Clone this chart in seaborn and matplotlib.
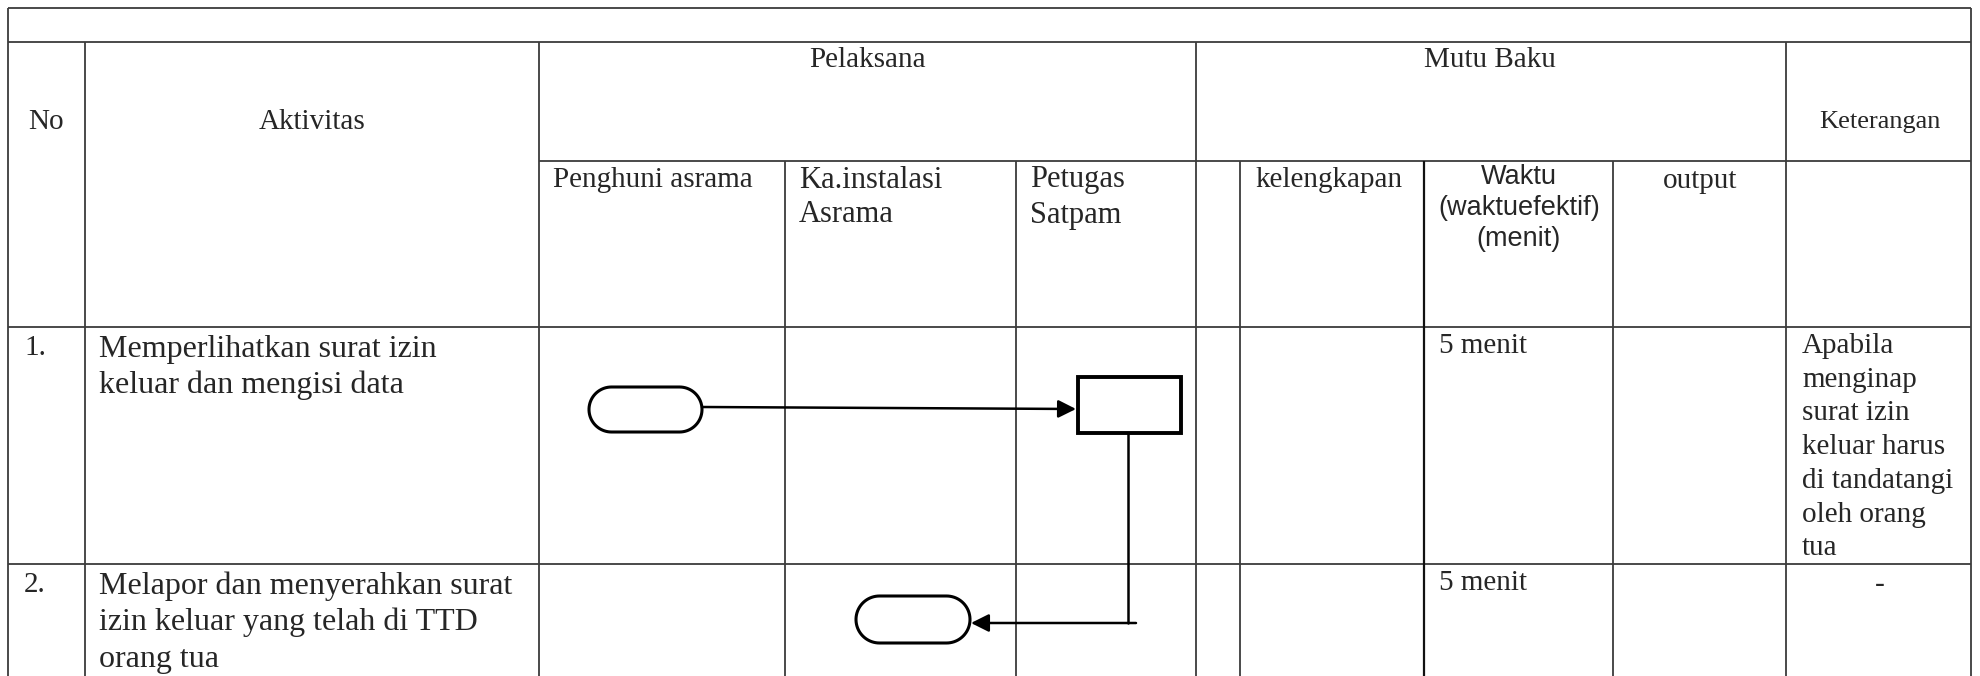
import matplotlib
matplotlib.use("Agg")
import matplotlib.pyplot as plt
from matplotlib.patches import Rectangle
import numpy as np
import seaborn as sns

# table content
header_top = ["Pelaksana", "Mutu Baku"]
header_side = ["No", "Aktivitas", "Keterangan"]
pelaksana_cols = [["Penghuni asrama"], ["Ka.instalasi", "Asrama"], ["Petugas", "Satpam"]]
mutu_cols = [["kelengkapan"], ["Waktu", "(waktuefektif)", "(menit)"], ["output"]]
step_no = ["1.", "2."]
activities = [
    ["Memperlihatkan surat izin", "keluar dan mengisi data"],
    ["Melapor dan menyerahkan surat", "izin keluar yang telah di TTD", "orang tua"],
]
durations = ["5 menit", "5 menit"]
notes = [
    ["Apabila", "menginap", "surat izin", "keluar harus", "di tandatangi", "oleh orang", "tua"],
    ["-"],
]

# layout in pixels
W, H = 1981, 676
col_x = [8, 85, 539, 785, 1016, 1196, 1240, 1424, 1613, 1786, 1971]
row_y = [7.5, 42, 161, 327, 564]

sns.set_theme(style="white")
serif = "Liberation Serif"
sans = "Liberation Sans"

fig = plt.figure(figsize=(W / 100, H / 100), dpi=100)
ax = fig.add_axes([0, 0, 1, 1])
ax.set_xlim(0, W)
ax.set_ylim(H, 0)
ax.axis("off")

grid_c = "#3c3c3c"
glw = 1.3


def hline(y, x0, x1, c=grid_c, lw=glw):
    ax.plot([x0, x1], [y, y], color=c, lw=lw, solid_capstyle="butt")


def vline(x, y0, y1, c=grid_c, lw=glw):
    ax.plot([x, x], [y0, y1], color=c, lw=lw, solid_capstyle="butt")


# horizontal rules
hline(row_y[0], col_x[0], col_x[-1])
hline(row_y[1], col_x[0], col_x[-1])
hline(row_y[2], col_x[2], col_x[-1])
hline(row_y[3], col_x[0], col_x[-1])
hline(row_y[4], col_x[0], col_x[-1])

# vertical rules
for x in [col_x[0], col_x[-1]]:
    vline(x, row_y[0], H)
for x in [col_x[1], col_x[2], col_x[5], col_x[9]]:
    vline(x, row_y[1], H)
for x in [col_x[3], col_x[4], col_x[6], col_x[8]]:
    vline(x, row_y[2], H)
vline(col_x[7], row_y[2], H, c="#111111", lw=1.6)

# header texts
ax.text((col_x[0] + col_x[1]) / 2, 122, header_side[0], family=serif, fontsize=21, ha="center", va="center")
ax.text((col_x[1] + col_x[2]) / 2, 122, header_side[1], family=serif, fontsize=21, ha="center", va="center")
ax.text(868, 60, header_top[0], family=serif, fontsize=21, ha="center", va="center")
ax.text(1490, 60, header_top[1], family=serif, fontsize=21, ha="center", va="center")
ax.text(1880, 122, header_side[2], family=serif, fontsize=19, ha="center", va="center")

# sub headers
for i, lines in enumerate(pelaksana_cols):
    x0 = col_x[2 + i] + 14
    size = 21 if i == 0 else 22
    for j, t in enumerate(lines):
        ax.text(x0, 180 + j * 35, t, family=serif, fontsize=size, ha="left", va="center")
ax.text(col_x[6] + 15, 180, mutu_cols[0][0], family=serif, fontsize=21, ha="left", va="center")
for j, t in enumerate(mutu_cols[1]):
    ax.text(1519, 177 + j * 31, t, family=sans, fontsize=19.5, ha="center", va="center")
ax.text(1700, 181, mutu_cols[2][0], family=serif, fontsize=21, ha="center", va="center")

# body rows
for r in range(2):
    top = row_y[3 + r]
    ax.text(24, top + 21, step_no[r], family=serif, fontsize=21, ha="left", va="center")
    for j, t in enumerate(activities[r]):
        ax.text(99, top + 22 + j * 36.5, t, family=serif, fontsize=23, ha="left", va="center")
    ax.text(1439, top + 19, durations[r], family=serif, fontsize=21, ha="left", va="center")
    if len(notes[r]) > 1:
        for j, t in enumerate(notes[r]):
            ax.text(1802, top + 19 + j * 33.7, t, family=serif, fontsize=21, ha="left", va="center")
    else:
        ax.text(1880, top + 21, notes[r][0], family=serif, fontsize=21, ha="center", va="center")

# flow chart symbols
flow_lw = 2.2


def terminator(x0, y0, x1, y1):
    # stadium shape: straight top/bottom, half-circle ends
    r = (y1 - y0) / 2
    cy = (y0 + y1) / 2
    th = np.linspace(-np.pi / 2, np.pi / 2, 40)
    right = np.column_stack([x1 - r + r * np.cos(th), cy + r * np.sin(th)])
    th2 = np.linspace(np.pi / 2, 3 * np.pi / 2, 40)
    left = np.column_stack([x0 + r + r * np.cos(th2), cy + r * np.sin(th2)])
    pts = np.vstack([right, left, right[:1]])
    ax.fill(pts[:, 0], pts[:, 1], fc="white", ec="black", lw=flow_lw, zorder=3)


terminator(589, 387, 702, 432)
ax.add_patch(Rectangle((1078, 377), 103, 56, fc="white", ec="black", lw=2.8, zorder=3))
terminator(856, 596, 970, 643)

arrow = dict(arrowstyle="-|>,head_length=0.9,head_width=0.45", color="black", lw=1.8,
             shrinkA=0, shrinkB=0)
ax.annotate("", xy=(1076, 409), xytext=(702, 407), arrowprops=arrow, zorder=4)
ax.plot([1128, 1128], [433, 623], color="black", lw=1.8, zorder=2)
ax.annotate("", xy=(971, 623), xytext=(1136, 623), arrowprops=arrow, zorder=4)

fig.savefig("out.png", dpi=100, facecolor="white")
